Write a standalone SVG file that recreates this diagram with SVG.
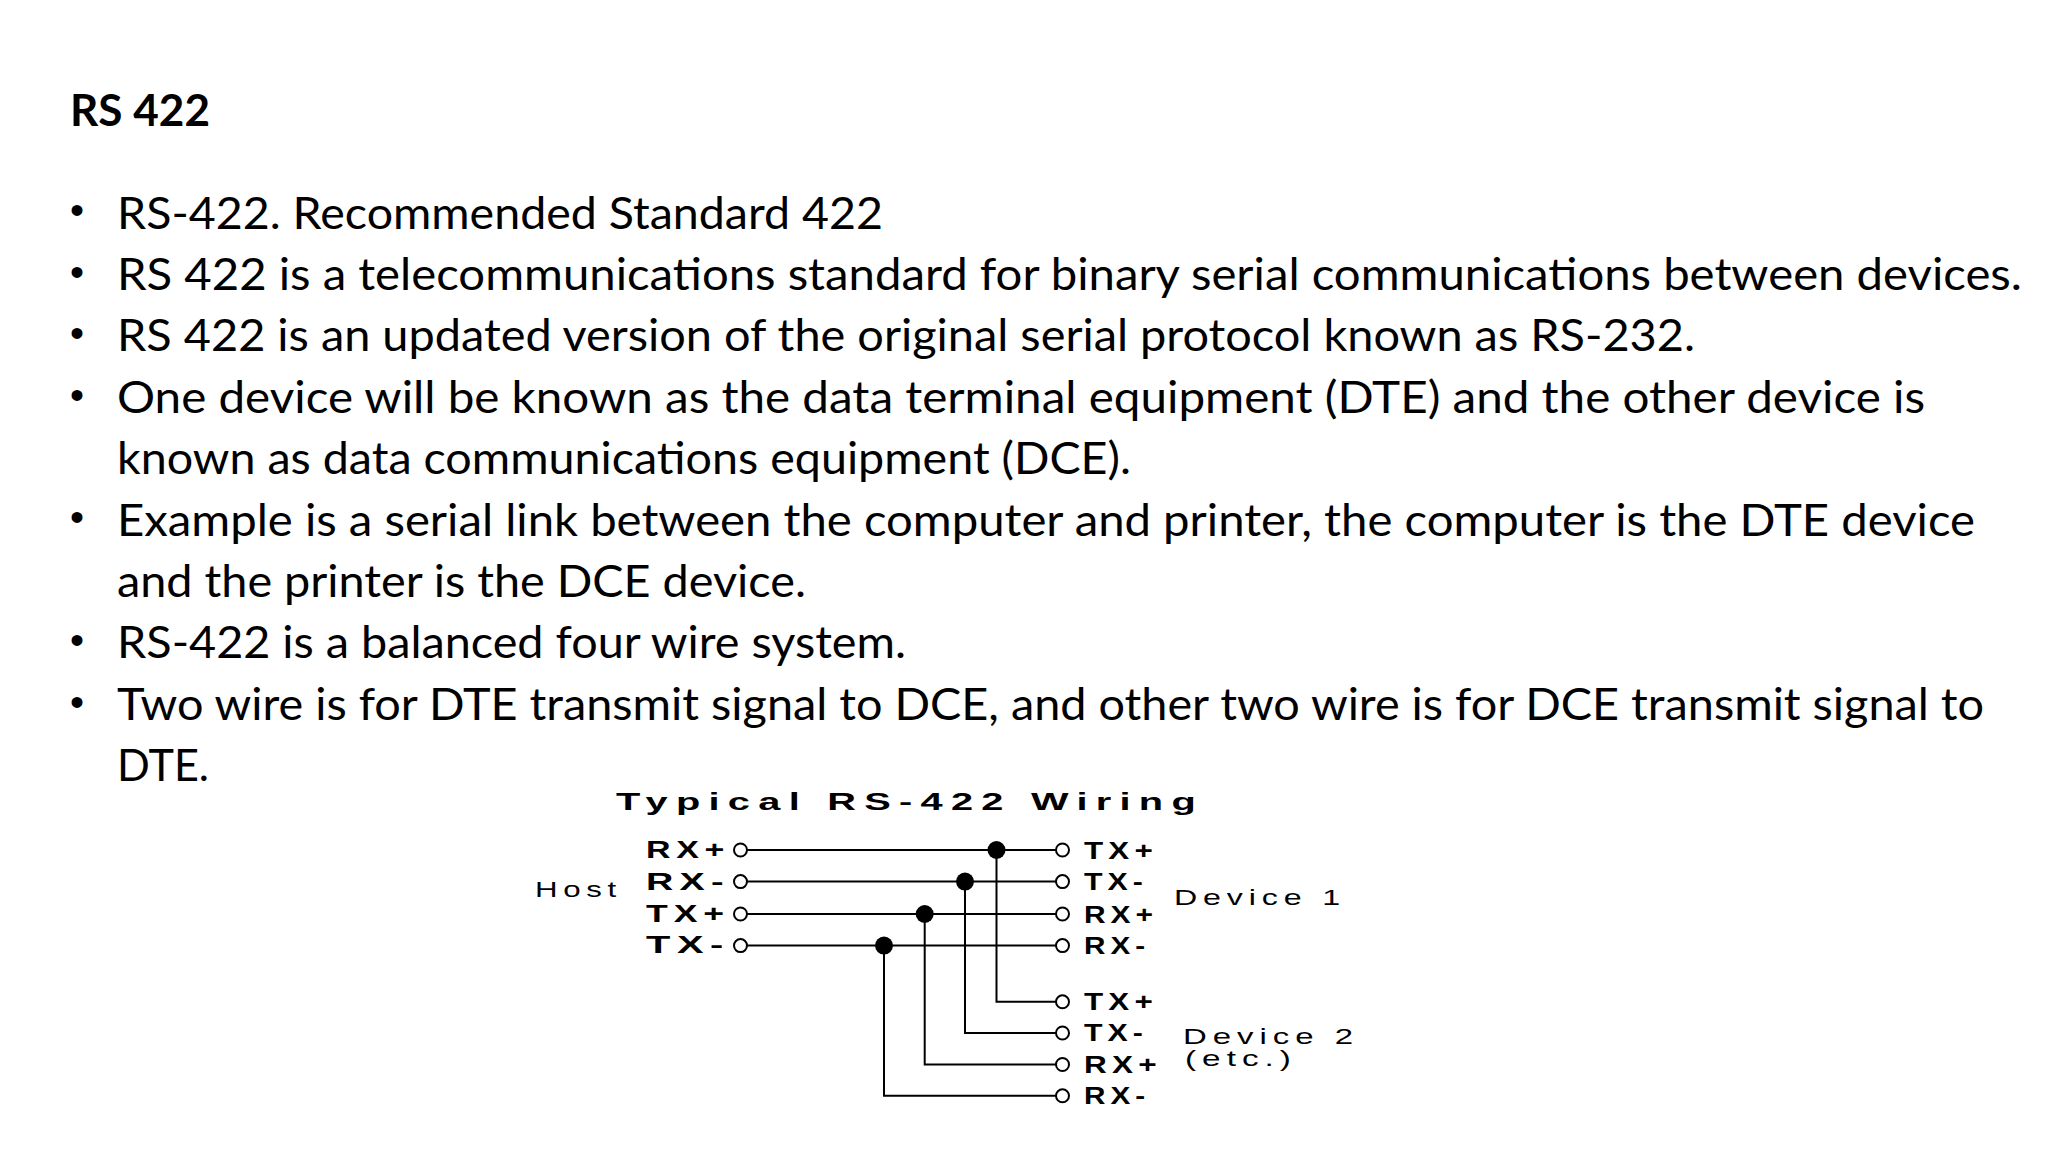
<svg xmlns="http://www.w3.org/2000/svg" width="2048" height="1152" viewBox="0 0 2048 1152">
<style>
.t{font-family:Lato,"Open Sans",sans-serif;font-size:44px;fill:#000}
.b{font-family:"Liberation Sans",Arial,sans-serif;font-weight:bold;font-size:24px;fill:#000}
.r{font-family:"Liberation Sans",Arial,sans-serif;font-size:22px;fill:#000}
.w{stroke:#000;stroke-width:2;fill:none}
.o{stroke:#000;stroke-width:2;fill:#fff}
</style>
<rect width="2048" height="1152" fill="#fff"/>
<g id="text">
<text x="70" y="126" class="t" font-weight="bold" font-size="42" textLength="140" lengthAdjust="spacingAndGlyphs">RS 422</text>
<g font-family="Liberation Sans,sans-serif" font-size="40">
<text x="70" y="224">•</text><text x="70" y="286">•</text><text x="70" y="347">•</text><text x="70" y="409">•</text><text x="70" y="531">•</text><text x="70" y="654">•</text><text x="70" y="716">•</text>
</g>
<text x="117" y="229" class="t" textLength="766" lengthAdjust="spacingAndGlyphs">RS-422. Recommended Standard 422</text>
<text x="117" y="290" class="t" textLength="1905" lengthAdjust="spacingAndGlyphs">RS 422 is a telecommunications standard for binary serial communications between devices.</text>
<text x="117" y="351" class="t" textLength="1578" lengthAdjust="spacingAndGlyphs">RS 422 is an updated version of the original serial protocol known as RS-232.</text>
<text x="117" y="413" class="t" textLength="1808" lengthAdjust="spacingAndGlyphs">One device will be known as the data terminal equipment (DTE) and the other device is</text>
<text x="117" y="474" class="t" textLength="1014" lengthAdjust="spacingAndGlyphs">known as data communications equipment (DCE).</text>
<text x="117" y="536" class="t" textLength="1858" lengthAdjust="spacingAndGlyphs">Example is a serial link between the computer and printer, the computer is the DTE device</text>
<text x="117" y="597" class="t" textLength="689" lengthAdjust="spacingAndGlyphs">and the printer is the DCE device.</text>
<text x="117" y="658" class="t" textLength="789" lengthAdjust="spacingAndGlyphs">RS-422 is a balanced four wire system.</text>
<text x="117" y="720" class="t" textLength="1867" lengthAdjust="spacingAndGlyphs">Two wire is for DTE transmit signal to DCE, and other two wire is for DCE transmit signal to</text>
<text x="117" y="781" class="t" textLength="92" lengthAdjust="spacingAndGlyphs">DTE.</text>
</g>
<g id="diagram-title"><text x="616" y="810" class="b" font-size="36" letter-spacing="5" textLength="588" lengthAdjust="spacingAndGlyphs">Typical RS-422 Wiring</text></g>
<g id="host">
<text x="535" y="897" class="r" letter-spacing="4" textLength="87" lengthAdjust="spacingAndGlyphs">Host</text>
<text x="646" y="858" class="b" letter-spacing="4" textLength="84" lengthAdjust="spacingAndGlyphs">RX+</text>
<text x="646" y="890" class="b" letter-spacing="4" textLength="84" lengthAdjust="spacingAndGlyphs">RX-</text>
<text x="646" y="922" class="b" letter-spacing="4" textLength="84" lengthAdjust="spacingAndGlyphs">TX+</text>
<text x="646" y="953" class="b" letter-spacing="4" textLength="84" lengthAdjust="spacingAndGlyphs">TX-</text>
</g>
<g id="connectors">
<path class="w" d="M747 850H1056M747 881.6H1056M747 914H1056M747 945.6H1056"/>
<path class="w" d="M996.5 850V1001.8H1056M965 881.6V1033H1056M924.7 914V1064.5H1056M884 945.6V1095.8H1056"/>
<g fill="#000"><circle cx="996.5" cy="850" r="9"/><circle cx="965" cy="881.6" r="9"/><circle cx="924.7" cy="914" r="9"/><circle cx="884" cy="945.6" r="9"/></g>
<g class="o"><circle cx="740.5" cy="850" r="6.5"/><circle cx="740.5" cy="881.6" r="6.5"/><circle cx="740.5" cy="914" r="6.5"/><circle cx="740.5" cy="945.6" r="6.5"/>
<circle cx="1062.5" cy="850" r="6.5"/><circle cx="1062.5" cy="881.6" r="6.5"/><circle cx="1062.5" cy="914" r="6.5"/><circle cx="1062.5" cy="945.6" r="6.5"/>
<circle cx="1062.5" cy="1001.8" r="6.5"/><circle cx="1062.5" cy="1033" r="6.5"/><circle cx="1062.5" cy="1064.5" r="6.5"/><circle cx="1062.5" cy="1095.8" r="6.5"/></g>
</g>
<g id="device1">
<text x="1084" y="859" class="b" letter-spacing="4" textLength="74" lengthAdjust="spacingAndGlyphs">TX+</text>
<text x="1084" y="890" class="b" letter-spacing="4" textLength="64" lengthAdjust="spacingAndGlyphs">TX-</text>
<text x="1084" y="923" class="b" letter-spacing="4" textLength="74" lengthAdjust="spacingAndGlyphs">RX+</text>
<text x="1084" y="954" class="b" letter-spacing="4" textLength="66" lengthAdjust="spacingAndGlyphs">RX-</text>
<text x="1174" y="905" class="r" letter-spacing="4" textLength="172" lengthAdjust="spacingAndGlyphs">Device 1</text>
</g>
<g id="device2">
<text x="1084" y="1010" class="b" letter-spacing="4" textLength="74" lengthAdjust="spacingAndGlyphs">TX+</text>
<text x="1084" y="1041" class="b" letter-spacing="4" textLength="64" lengthAdjust="spacingAndGlyphs">TX-</text>
<text x="1084" y="1073" class="b" letter-spacing="4" textLength="78" lengthAdjust="spacingAndGlyphs">RX+</text>
<text x="1084" y="1104" class="b" letter-spacing="4" textLength="66" lengthAdjust="spacingAndGlyphs">RX-</text>
<text x="1183" y="1044" class="r" font-size="21" letter-spacing="4" textLength="176" lengthAdjust="spacingAndGlyphs">Device 2</text>
<text x="1185" y="1066" class="r" font-size="20" letter-spacing="4" textLength="112" lengthAdjust="spacingAndGlyphs">(etc.)</text>
</g>
</svg>
